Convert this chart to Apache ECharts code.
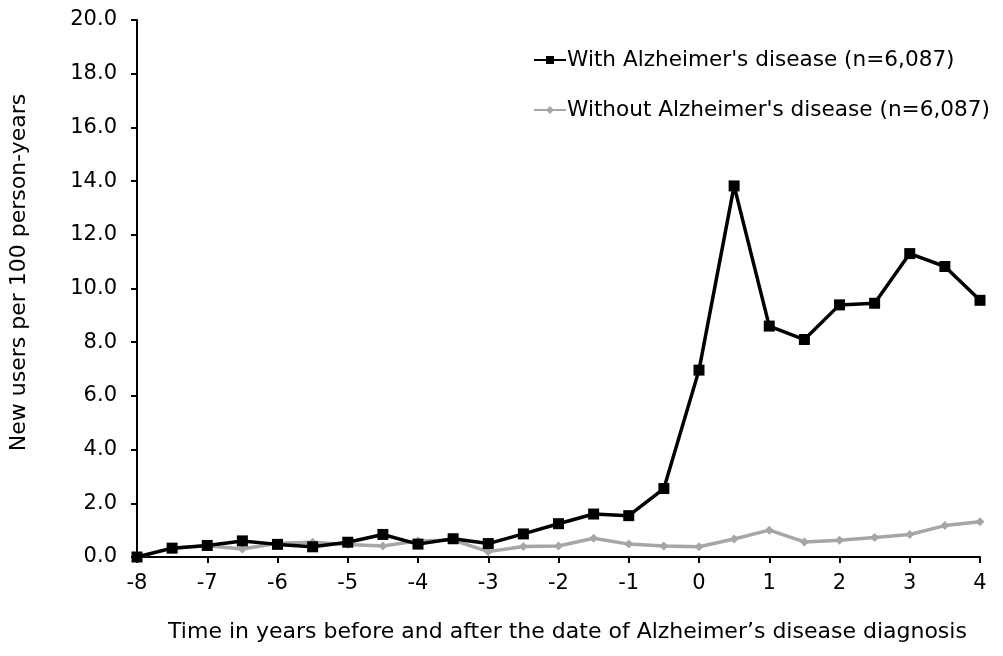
<!DOCTYPE html>
<html>
<head>
<meta charset="utf-8">
<script src="https://cdn.jsdelivr.net/npm/echarts@6/dist/echarts.min.js"></script>
<style>
  html, body { margin: 0; padding: 0; background: #fff; }
  #chart { width: 1003px; height: 656px; }
</style>
</head>
<body>
<div id="chart"></div>
<script>
// Years relative to diagnosis, in half-year steps
const years = [-8, -7.5, -7, -6.5, -6, -5.5, -5, -4.5, -4, -3.5, -3, -2.5, -2,
  -1.5, -1, -0.5, 0, 0.5, 1, 1.5, 2, 2.5, 3, 3.5, 4];

// New users per 100 person-years
const withAD = [0, 0.33, 0.43, 0.6, 0.47, 0.38, 0.55, 0.84, 0.48, 0.68, 0.5, 0.86, 1.24,
  1.6, 1.54, 2.55, 6.96, 13.82, 8.6, 8.1, 9.39, 9.45, 11.3, 10.82, 9.56];
const withoutAD = [0, 0.33, 0.42, 0.3, 0.51, 0.55, 0.47, 0.41, 0.6, 0.63, 0.2, 0.39, 0.41,
  0.7, 0.48, 0.41, 0.38, 0.67, 1.0, 0.56, 0.62, 0.73, 0.84, 1.17, 1.31];

const seriesNames = ["With Alzheimer's disease (n=6,087)", "Without Alzheimer's disease (n=6,087)"];
const xTitle = 'Time in years before and after the date of Alzheimer\u2019s disease diagnosis';
const yTitle = 'New users per 100 person-years';

const FONT = 'DejaVu Sans';
const chart = echarts.init(document.getElementById('chart'), null, { renderer: 'canvas' });

const pairs = arr => years.map((y, i) => [y, arr[i]]);

chart.setOption({
  animation: false,
  backgroundColor: '#ffffff',
  textStyle: { fontFamily: FONT, color: '#000' },
  grid: { left: 137, right: 23, top: 20, bottom: 99, containLabel: false },
  legend: {
    orient: 'vertical',
    left: 528,
    top: 42,
    itemGap: 24,
    itemWidth: 32,
    itemHeight: 10,
    textStyle: { fontFamily: FONT, fontSize: 21.6, lineHeight: 26, color: '#000', padding: [0, 0, 0, -4] },
    data: seriesNames
  },
  xAxis: {
    type: 'value',
    min: -8, max: 4, interval: 1,
    name: xTitle,
    nameLocation: 'middle',
    nameGap: 64,
    nameTextStyle: { fontFamily: FONT, fontSize: 22, color: '#000', padding: [0, 0, 0, 18] },
    axisLine: { show: true, onZero: false, lineStyle: { color: '#000', width: 2 } },
    axisTick: { show: true, inside: false, length: 6, lineStyle: { color: '#000', width: 2 } },
    axisLabel: { fontFamily: FONT, fontSize: 21, color: '#000', margin: 16 },
    splitLine: { show: false }
  },
  yAxis: {
    type: 'value',
    min: 0, max: 20, interval: 2,
    name: yTitle,
    nameLocation: 'middle',
    nameGap: 107,
    nameTextStyle: { fontFamily: FONT, fontSize: 22, color: '#000', padding: [0, 0, 0, 32] },
    axisLine: { show: true, onZero: false, lineStyle: { color: '#000', width: 2 } },
    axisTick: { show: true, inside: false, length: 6, lineStyle: { color: '#000', width: 2 } },
    axisLabel: { fontFamily: FONT, fontSize: 21, color: '#000', margin: 20,
      formatter: v => v.toFixed(1) },
    splitLine: { show: false }
  },
  series: [
    {
      name: seriesNames[1],
      type: 'line',
      data: pairs(withoutAD),
      symbol: 'diamond',
      symbolSize: 9,
      lineStyle: { color: '#a6a6a6', width: 3.5 },
      itemStyle: { color: '#a6a6a6' },
      z: 2
    },
    {
      name: seriesNames[0],
      type: 'line',
      data: pairs(withAD),
      symbol: 'rect',
      symbolSize: 11,
      lineStyle: { color: '#000', width: 3.5 },
      itemStyle: { color: '#000' },
      z: 3
    }
  ]
});
</script>
</body>
</html>
